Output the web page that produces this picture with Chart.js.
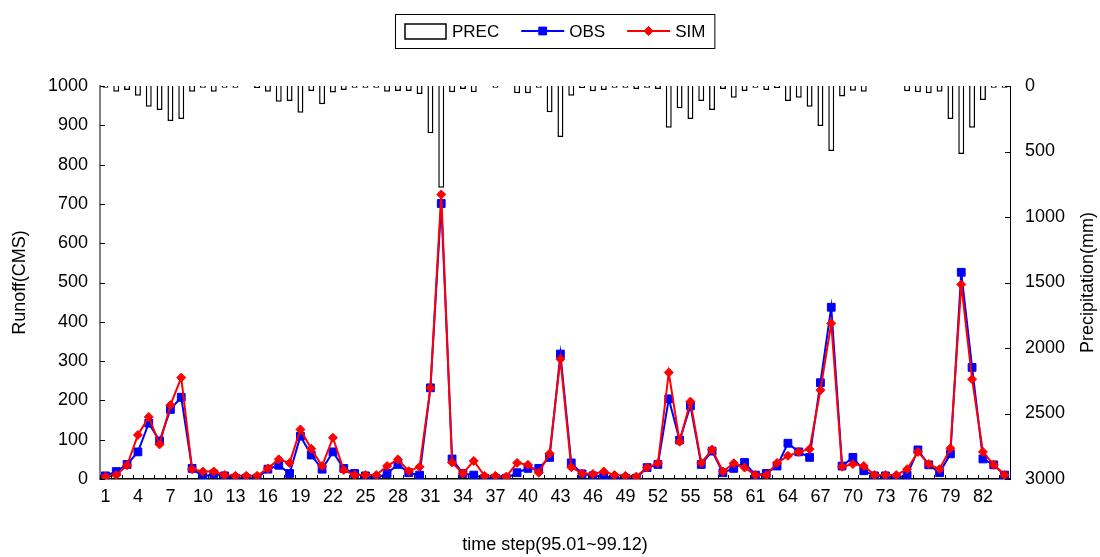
<!DOCTYPE html>
<html>
<head>
<meta charset="utf-8">
<script src="https://cdn.jsdelivr.net/npm/chart.js@4.4.0/dist/chart.umd.min.js"></script>
<style>
html, body { margin: 0; padding: 0; background: #fff; }
</style>
</head>
<body>
<canvas id="runoffChart" width="1100" height="557"></canvas>
<script>
// ==========================
// DATA
// ==========================
const timeSteps = Array.from({ length: 84 }, (_, i) => String(i + 1));

// precipitation (mm), hanging bars on the right axis
const prec = [13, 43, 30, 74, 158, 183, 267, 252, 43, 13,
              43, 13, 13, 0, 15, 43, 120, 115, 204, 38,
              140, 50, 30, 13, 13, 13, 43, 38, 38, 61,
              361, 776, 48, 23, 48, 0, 13, 0, 56, 56,
              13, 201, 389, 74, 15, 40, 30, 13, 13, 23,
              13, 23, 318, 170, 252, 115, 183, 23, 89, 38,
              13, 30, 15, 115, 89, 158, 305, 496, 80, 36,
              43, 0, 0, 0, 40, 48, 56, 43, 252, 519,
              318, 107, 13, 13];

// observed runoff (CMS)
const obs = [8, 19, 37, 69, 142, 97, 177, 208, 27, 6,
             13, 8, 2, 2, 2, 25, 35, 14, 109, 61,
             25, 69, 27, 14, 8, 2, 14, 37, 16, 10,
             232, 701, 51, 14, 10, 2, 2, 2, 16, 27,
             27, 55, 318, 41, 13, 8, 8, 2, 2, 2,
             29, 37, 204, 99, 186, 37, 71, 16, 27, 42,
             10, 14, 33, 91, 69, 55, 245, 437, 33, 55,
             21, 8, 8, 2, 10, 74, 36, 16, 64, 526,
             284, 51, 36, 10];

// simulated runoff (CMS)
const sim = [6, 10, 35, 112, 158, 88, 188, 258, 25, 19,
             19, 10, 8, 8, 8, 27, 50, 41, 126, 77,
             33, 105, 23, 10, 10, 10, 33, 50, 20, 31,
             232, 724, 42, 14, 46, 8, 8, 6, 41, 36,
             16, 65, 305, 30, 14, 13, 19, 10, 8, 6,
             29, 40, 271, 95, 197, 41, 75, 19, 40, 29,
             10, 10, 41, 59, 69, 76, 226, 396, 31, 38,
             33, 10, 10, 10, 25, 69, 38, 25, 78, 495,
             254, 69, 36, 10];

const FONT = '"Liberation Sans", Arial, sans-serif';
Chart.defaults.font.family = FONT;
Chart.defaults.font.size = 18;
Chart.defaults.color = '#000';

// ==========================
// PLUGINS
// ==========================

// small tick marks pointing into the plot
const innerTicks = {
    id: 'innerTicks',
    afterDraw(chart) {
        const { ctx, chartArea: a, scales } = chart;
        ctx.save();
        ctx.strokeStyle = '#000';
        ctx.lineWidth = 1;
        ctx.beginPath();
        scales.y.ticks.forEach(t => {
            const y = Math.round(scales.y.getPixelForValue(t.value)) + 0.5;
            ctx.moveTo(a.left, y);
            ctx.lineTo(a.left + 5, y);
        });
        scales.y2.ticks.forEach(t => {
            const y = Math.round(scales.y2.getPixelForValue(t.value)) + 0.5;
            ctx.moveTo(a.right, y);
            ctx.lineTo(a.right - 5, y);
        });
        for (let i = 0; i <= timeSteps.length; i++) {
            const x = Math.round(scales.x.getPixelForValue(i - 0.5)) + 0.5;
            ctx.moveTo(x, a.bottom);
            ctx.lineTo(x, a.bottom - 4);
        }
        ctx.stroke();

        // right axis title, read bottom to top
        ctx.fillStyle = '#000';
        ctx.font = '18px ' + FONT;
        ctx.textAlign = 'center';
        ctx.textBaseline = 'middle';
        ctx.translate(1088, (a.top + a.bottom) / 2);
        ctx.rotate(-Math.PI / 2);
        ctx.fillText('Precipitation(mm)', 0, 0);
        ctx.restore();
    }
};

// boxed legend at the top: rect for bars, line + marker for series
const legendBox = {
    id: 'legendBox',
    afterDraw(chart) {
        const { ctx, chartArea: a } = chart;
        const sets = chart.data.datasets;
        ctx.save();
        ctx.font = '17px ' + FONT;
        const sym = 43, gap = 5, spacing = 22, padX = 9;
        let total = padX * 2;
        sets.forEach((d, i) => {
            total += sym + gap + ctx.measureText(d.label).width;
            if (i < sets.length - 1) total += spacing;
        });
        const top = 14, h = 34, cy = top + h / 2;
        let x = Math.round((a.left + a.right) / 2 - total / 2);
        ctx.strokeStyle = '#000';
        ctx.lineWidth = 1;
        ctx.strokeRect(x + 0.5, top + 0.5, total, h);
        x += padX;
        sets.forEach(d => {
            if (d.type === 'bar') {
                ctx.lineWidth = 1.5;
                ctx.strokeStyle = '#000';
                ctx.strokeRect(x + 1, cy - 7, sym - 2, 15);
            } else {
                ctx.lineWidth = 2;
                ctx.strokeStyle = d.borderColor;
                ctx.beginPath();
                ctx.moveTo(x, cy);
                ctx.lineTo(x + sym, cy);
                ctx.stroke();
                ctx.fillStyle = d.backgroundColor;
                ctx.lineWidth = 1;
                Chart.helpers.drawPoint(ctx, {
                    pointStyle: d.pointStyle, radius: d.pointRadius, rotation: 0, borderWidth: 1
                }, x + sym / 2, cy);
                ctx.fill();
            }
            x += sym + gap;
            ctx.fillStyle = '#000';
            ctx.textAlign = 'left';
            ctx.textBaseline = 'middle';
            ctx.fillText(d.label, x, cy + 1);
            x += ctx.measureText(d.label).width + spacing;
        });
        ctx.restore();
    }
};

// ==========================
// CHART
// ==========================
new Chart(document.getElementById('runoffChart'), {
    data: {
        labels: timeSteps,
        datasets: [
            {
                type: 'bar',
                label: 'PREC',
                data: prec,
                yAxisID: 'y2',
                backgroundColor: '#fff',
                borderColor: '#000',
                borderWidth: 1.5,
                barPercentage: 0.55,
                categoryPercentage: 1,
                order: 3
            },
            {
                type: 'line',
                label: 'OBS',
                data: obs,
                yAxisID: 'y',
                borderColor: '#0000ff',
                backgroundColor: '#0000ff',
                borderWidth: 2,
                pointStyle: 'rect',
                pointRadius: 5.5,
                pointBorderWidth: 1,
                tension: 0,
                order: 2
            },
            {
                type: 'line',
                label: 'SIM',
                data: sim,
                yAxisID: 'y',
                borderColor: '#ff0000',
                backgroundColor: '#ff0000',
                borderWidth: 2,
                pointStyle: 'rectRot',
                pointRadius: 4.5,
                pointBorderWidth: 1,
                tension: 0,
                order: 1
            }
        ]
    },
    options: {
        responsive: false,
        animation: false,
        layout: { padding: { top: 86, left: 0, right: 0, bottom: 0 } },
        plugins: {
            legend: { display: false },
            tooltip: { enabled: false }
        },
        scales: {
            x: {
                type: 'category',
                offset: true,
                grid: { display: false, drawTicks: false },
                border: { color: '#000', width: 1.5 },
                ticks: {
                    autoSkip: false,
                    maxRotation: 0,
                    padding: 7,
                    callback: (v, i) => (i % 3 === 0 ? timeSteps[i] : '')
                },
                title: {
                    display: true,
                    text: 'time step(95.01~99.12)',
                    padding: { top: 4, bottom: 1 }
                },
                afterFit: s => { s.height = 78; }
            },
            y: {
                position: 'left',
                min: 0,
                max: 1000,
                grid: { display: false, drawTicks: false },
                border: { color: '#808080', width: 2 },
                ticks: { stepSize: 100, padding: 12, callback: v => String(v) },
                title: {
                    display: true,
                    text: 'Runoff(CMS)',
                    padding: { top: 9, bottom: 0 }
                },
                afterFit: s => { s.width = 100; }
            },
            y2: {
                position: 'right',
                reverse: true,
                min: 0,
                max: 3000,
                grid: { display: false, drawTicks: false },
                border: { color: '#000', width: 1 },
                ticks: { stepSize: 500, padding: 15, callback: v => String(v) },
                afterFit: s => { s.width = 90; }
            }
        }
    },
    plugins: [innerTicks, legendBox]
});
</script>
</body>
</html>
